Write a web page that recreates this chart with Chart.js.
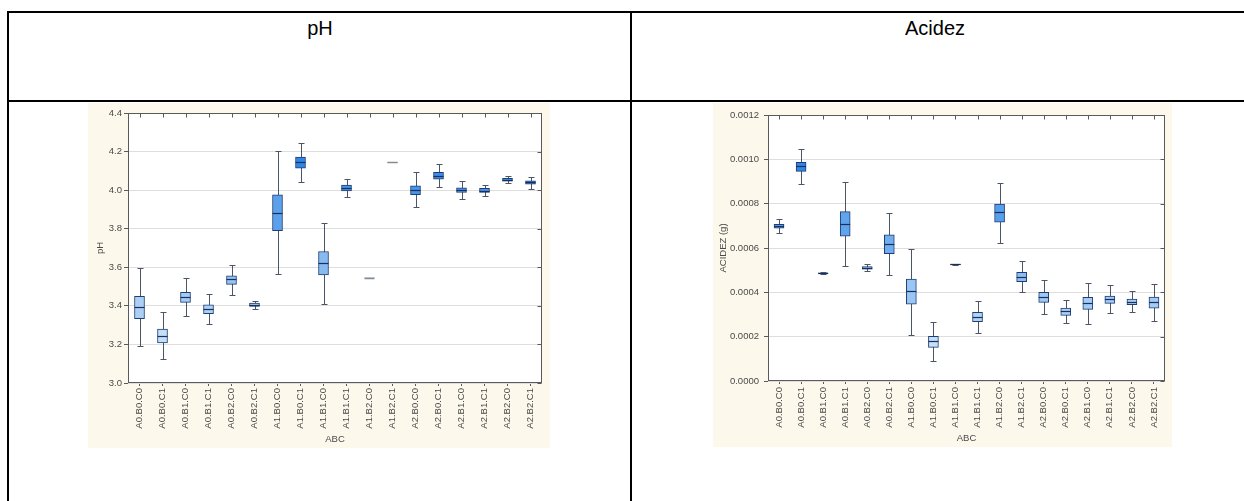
<!DOCTYPE html>
<html>
<head>
<meta charset="utf-8">
<script src="https://cdn.jsdelivr.net/npm/chart.js@4.4.1/dist/chart.umd.min.js"></script>
<style>
  html, body { margin: 0; padding: 0; background: #ffffff; }
  body { position: relative; width: 1244px; height: 501px; overflow: hidden;
         font-family: "Liberation Sans", Arial, sans-serif; }
  .rule { position: absolute; background: #000000; }
  .head { position: absolute; top: 18px; font-size: 20px; line-height: 20px;
          color: #000000; text-align: center; }
  canvas { position: absolute; background: #fcf8ec; }
</style>
</head>
<body>
  <!-- table frame -->
  <div class="rule" style="left:7px;top:11px;width:1237px;height:2px;"></div>
  <div class="rule" style="left:7px;top:100px;width:1237px;height:2px;"></div>
  <div class="rule" style="left:7px;top:11px;width:2px;height:490px;"></div>
  <div class="rule" style="left:630px;top:11px;width:2px;height:490px;"></div>

  <div class="head" style="left:220px;width:200px;">pH</div>
  <div class="head" style="left:835px;width:200px;">Acidez</div>

  <canvas id="phChart" width="462" height="345" style="left:88px;top:103px;width:462px;height:345px;"></canvas>
  <canvas id="acChart" width="459" height="344" style="left:713px;top:103px;width:459px;height:344px;"></canvas>

<script>
// Treatment combinations (factors A, B, C)
const categories = [
  'A0.B0.C0', 'A0.B0.C1', 'A0.B1.C0', 'A0.B1.C1', 'A0.B2.C0', 'A0.B2.C1',
  'A1.B0.C0', 'A1.B0.C1', 'A1.B1.C0', 'A1.B1.C1', 'A1.B2.C0', 'A1.B2.C1',
  'A2.B0.C0', 'A2.B0.C1', 'A2.B1.C0', 'A2.B1.C1', 'A2.B2.C0', 'A2.B2.C1'
];

// pH: whisker ends, quartiles and median per treatment
const phMax    = [3.594, 3.366, 3.546, 3.464, 3.613, 3.423, 4.203, 4.243, 3.830, 4.060, 3.546, 4.144, 4.092, 4.135, 4.050, 4.026, 4.073, 4.068];
const phQ3     = [3.450, 3.279, 3.470, 3.405, 3.556, 3.414, 3.976, 4.171, 3.682, 4.026, 3.546, 4.144, 4.022, 4.092, 4.012, 4.009, 4.061, 4.048];
const phMedian = [3.393, 3.246, 3.445, 3.383, 3.539, 3.405, 3.884, 4.146, 3.623, 4.012, 3.546, 4.144, 4.003, 4.074, 4.000, 3.998, 4.054, 4.040];
const phQ1     = [3.334, 3.208, 3.418, 3.359, 3.511, 3.397, 3.790, 4.114, 3.561, 3.996, 3.546, 4.144, 3.977, 4.057, 3.988, 3.988, 4.047, 4.031];
const phMin    = [3.190, 3.126, 3.345, 3.307, 3.456, 3.383, 3.565, 4.044, 3.412, 3.962, 3.546, 4.144, 3.911, 4.016, 3.953, 3.969, 4.035, 4.005];

// Acidez (g): whisker ends, quartiles and median per treatment
const acMax    = [0.000731, 0.001045, 0.000490, 0.000900, 0.000529, 0.000758, 0.000595, 0.000266, 0.000528, 0.000361, 0.000895, 0.000540, 0.000454, 0.000367, 0.000442, 0.000432, 0.000406, 0.000436];
const acQ3     = [0.000707, 0.000986, 0.000488, 0.000764, 0.000516, 0.000659, 0.000460, 0.000202, 0.000527, 0.000310, 0.000798, 0.000490, 0.000400, 0.000329, 0.000377, 0.000383, 0.000370, 0.000379];
const acMedian = [0.000698, 0.000971, 0.000487, 0.000708, 0.000511, 0.000618, 0.000405, 0.000182, 0.000526, 0.000289, 0.000761, 0.000471, 0.000377, 0.000314, 0.000353, 0.000368, 0.000358, 0.000356];
const acQ1     = [0.000689, 0.000946, 0.000486, 0.000653, 0.000505, 0.000574, 0.000347, 0.000152, 0.000525, 0.000268, 0.000717, 0.000448, 0.000355, 0.000296, 0.000323, 0.000350, 0.000344, 0.000328];
const acMin    = [0.000666, 0.000887, 0.000484, 0.000519, 0.000495, 0.000480, 0.000208, 0.000089, 0.000524, 0.000215, 0.000621, 0.000400, 0.000301, 0.000260, 0.000257, 0.000305, 0.000311, 0.000272];

// Value-axis tick labels
const phTickLabels = ['3.0', '3.2', '3.4', '3.6', '3.8', '4.0', '4.2', '4.4'];
const acTickLabels = ['0.0000', '0.0002', '0.0004', '0.0006', '0.0008', '0.0010', '0.0012'];

// Box fill shades from pale to saturated blue according to the median
const LIGHT = [196, 223, 248];
const DARK  = [48, 134, 230];
function shadeFor(v, lo, hi) {
  let t = (v - lo) / (hi - lo);
  t = Math.max(0, Math.min(1, t));
  const c = LIGHT.map((l, k) => Math.round(l + (DARK[k] - l) * t));
  return `rgb(${c[0]},${c[1]},${c[2]})`;
}

const BOX_EDGE = '#1f3d74';
const MEDIAN = '#17305e';
const WHISKER = '#4b5566';
const FRAME = '#5a5a5a';
const TICK_FONT = { family: '"Liberation Sans", Arial, sans-serif', size: 9.5 };

// Whiskers, caps, medians, plot frame and inner tick marks
const boxDecor = {
  id: 'boxDecor',
  beforeDraw(chart) {
    const { ctx, chartArea: a } = chart;
    ctx.save();
    ctx.fillStyle = '#ffffff';
    ctx.fillRect(a.left, a.top, a.right - a.left, a.bottom - a.top);
    ctx.restore();
  },
  beforeDatasetsDraw(chart, args, o) {
    const { ctx, scales: { x, y } } = chart;
    ctx.save();
    ctx.strokeStyle = WHISKER;
    ctx.lineWidth = 1;
    o.min.forEach((lo, i) => {
      if (lo === o.max[i]) return;
      const cx = Math.round(x.getPixelForValue(i)) + 0.5;
      const yTop = Math.round(y.getPixelForValue(o.max[i])) + 0.5;
      const yBot = Math.round(y.getPixelForValue(lo)) + 0.5;
      ctx.beginPath();
      ctx.moveTo(cx, yTop); ctx.lineTo(cx, yBot);
      ctx.moveTo(cx - 3, yTop); ctx.lineTo(cx + 3, yTop);
      ctx.moveTo(cx - 3, yBot); ctx.lineTo(cx + 3, yBot);
      ctx.stroke();
    });
    ctx.restore();
  },
  afterDatasetsDraw(chart, args, o) {
    const { ctx, scales: { x, y } } = chart;
    ctx.save();
    o.median.forEach((m, i) => {
      const cx = x.getPixelForValue(i);
      const my = Math.round(y.getPixelForValue(m)) + 0.5;
      const flat = o.min[i] === o.max[i];
      ctx.strokeStyle = flat ? '#8a8a8a' : MEDIAN;
      ctx.lineWidth = flat ? 1.5 : 1.2;
      ctx.beginPath();
      ctx.moveTo(cx - o.half, my); ctx.lineTo(cx + o.half, my);
      ctx.stroke();
    });
    ctx.restore();
  },
  afterDraw(chart) {
    const { ctx, chartArea: a, scales: { x, y } } = chart;
    ctx.save();
    ctx.strokeStyle = FRAME;
    ctx.lineWidth = 1;
    const L = Math.round(a.left) + 0.5, R = Math.round(a.right) - 0.5;
    const T = Math.round(a.top) + 0.5, B = Math.round(a.bottom) - 0.5;
    ctx.strokeRect(L, T, R - L, B - T);
    ctx.beginPath();
    x.ticks.forEach((t, i) => {
      const px = Math.round(x.getPixelForTick(i)) + 0.5;
      ctx.moveTo(px, T); ctx.lineTo(px, T + 4);
    });
    y.ticks.forEach((t, i) => {
      const py = Math.round(y.getPixelForTick(i)) + 0.5;
      ctx.moveTo(R, py); ctx.lineTo(R - 4, py);
    });
    ctx.stroke();
    ctx.restore();
  }
};

function boxChart(id, s, axis) {
  const lo = Math.min(...s.median), hi = Math.max(...s.median);
  return new Chart(document.getElementById(id), {
    type: 'bar',
    data: {
      labels: categories,
      datasets: [{
        data: s.q1.map((v, i) => [v, s.q3[i]]),
        backgroundColor: s.median.map(m => shadeFor(m, lo, hi)),
        borderColor: BOX_EDGE,
        borderWidth: s.q1.map((v, i) => (v === s.q3[i] ? 0 : 1)),
        borderSkipped: false,
        barThickness: 10
      }]
    },
    options: {
      responsive: false,
      animation: false,
      devicePixelRatio: 1,
      layout: { padding: { top: axis.padTop, right: axis.padRight, left: 0, bottom: 0 } },
      plugins: {
        legend: { display: false },
        tooltip: { enabled: false },
        boxDecor: { min: s.min, max: s.max, median: s.median, half: 5 }
      },
      scales: {
        x: {
          offset: true,
          border: { display: false },
          grid: { offset: false, drawOnChartArea: false, drawTicks: true, tickLength: 3, tickColor: FRAME },
          ticks: { autoSkip: false, minRotation: 90, maxRotation: 90, padding: axis.xPad,
                   color: '#4a4a4a', font: TICK_FONT },
          title: { display: true, text: 'ABC', color: '#4a4a4a', font: TICK_FONT,
                   padding: { top: 0, bottom: 3.3 } },
          afterFit(sc) { sc.height = axis.xHeight; }
        },
        y: {
          min: axis.min, max: axis.max,
          border: { display: false },
          grid: { color: '#dedede', lineWidth: 1, tickLength: 4, tickColor: FRAME },
          ticks: { stepSize: axis.step, padding: axis.yPad, color: '#4a4a4a', font: TICK_FONT,
                   callback: (v, i) => axis.labels[i] },
          title: { display: true, text: axis.title, color: '#4a4a4a', font: TICK_FONT,
                   padding: { top: axis.titlePad, bottom: 0 } },
          afterFit(sc) { sc.width = axis.yWidth; }
        }
      }
    },
    plugins: [boxDecor]
  });
}

boxChart('phChart',
  { min: phMin, q1: phQ1, median: phMedian, q3: phQ3, max: phMax },
  { min: 3.0, max: 4.4, step: 0.2, labels: phTickLabels, title: 'pH',
    padTop: 10, padRight: 8, yWidth: 40, xHeight: 65, yPad: 2, xPad: 2, titlePad: 6.3 });

boxChart('acChart',
  { min: acMin, q1: acQ1, median: acMedian, q3: acQ3, max: acMax },
  { min: 0, max: 0.0012, step: 0.0002, labels: acTickLabels, title: 'ACIDEZ (g)',
    padTop: 12, padRight: 7, yWidth: 55, xHeight: 66, yPad: 5, xPad: 3, titlePad: 4.3 });
</script>
</body>
</html>
